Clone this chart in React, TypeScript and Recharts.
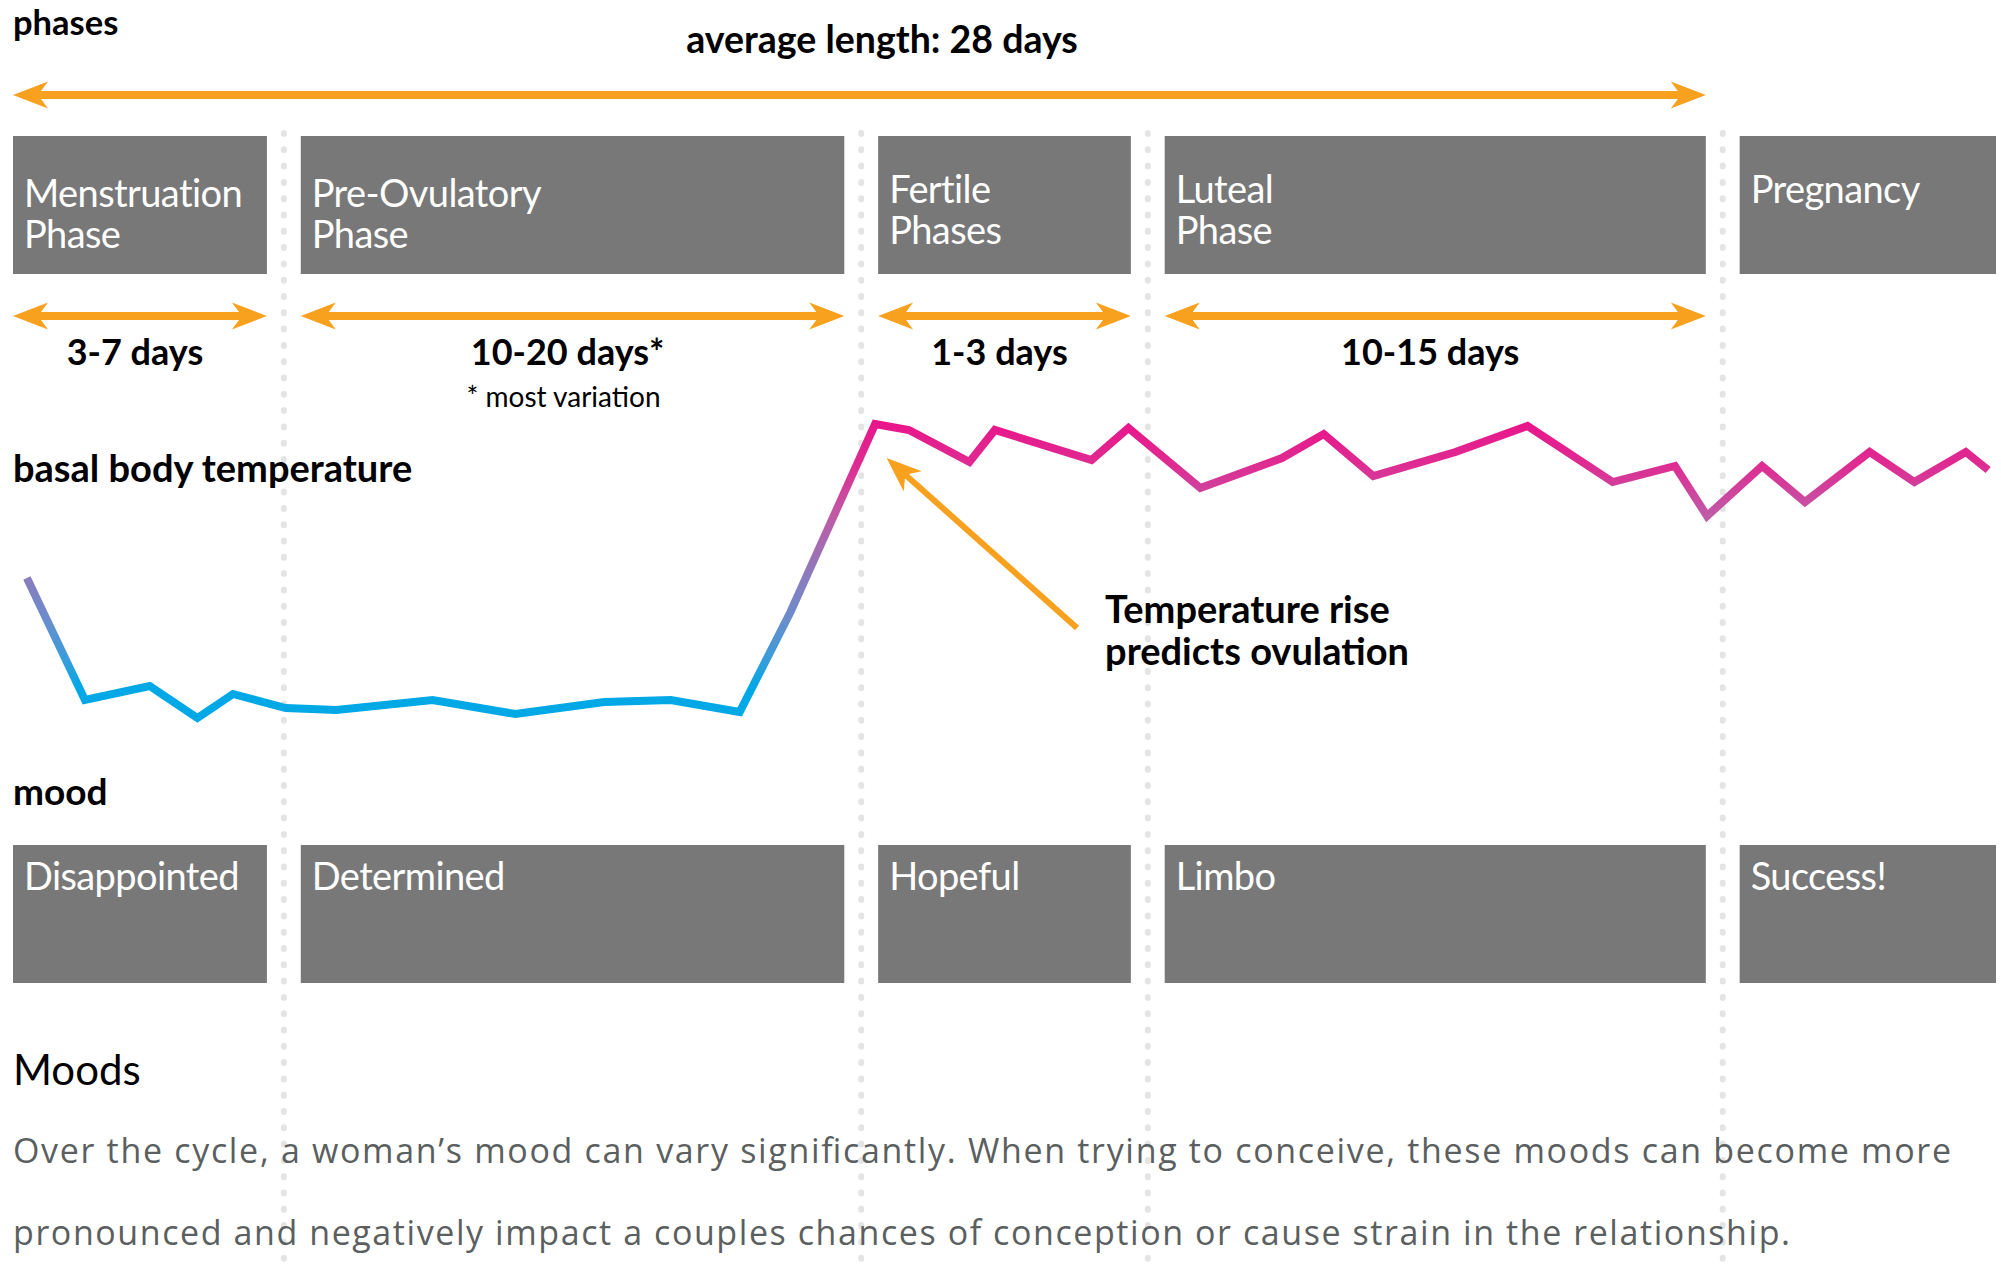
import React from "react";
import {
  ComposedChart,
  Line,
  XAxis,
  YAxis,
  ReferenceArea,
  ReferenceLine,
} from "recharts";

// cycle day of each basal body temperature reading
const days = [
  0.23, 1.19, 2.26, 3.05, 3.64, 4.51, 5.35, 6.94, 8.31, 9.78, 10.88, 12.02,
  12.86, 14.26, 14.82, 15.82, 16.24, 17.84, 18.45, 19.64, 20.99, 21.68, 22.5,
  23.86, 25.05, 26.46, 27.49, 28.02, 28.93, 29.64, 30.71, 31.45, 32.3, 32.67,
];
// basal body temperature (°F)
const temps = [
  97.61, 97.0, 97.07, 96.91, 97.03, 96.96, 96.95, 97.0, 96.93, 96.99, 97.0,
  96.94, 97.44, 98.38, 98.35, 98.19, 98.35, 98.2, 98.36, 98.06, 98.21, 98.33,
  98.12, 98.24, 98.37, 98.09, 98.17, 97.92, 98.17, 97.99, 98.24, 98.09, 98.24,
  98.15,
];

// phase separators (cycle days), phase + mood labels
const boundaries = [0, 4.48, 14.03, 18.77, 28.28, 32.8];
const phaseNames = [
  ["Menstruation", "Phase"],
  ["Pre-Ovulatory", "Phase"],
  ["Fertile", "Phases"],
  ["Luteal", "Phase"],
  ["Pregnancy"],
];
const durations = ["3-7 days", "10-20 days*", "1-3 days", "10-15 days", ""];
const durationNotes = ["", "* most variation", "", "", ""];
const moods = ["Disappointed", "Determined", "Hopeful", "Limbo", "Success!"];

const tempData = days.map((d, i) => ({ day: d, temp: temps[i] }));

const FONT = "Lato, 'Open Sans', sans-serif";
const ORANGE = "#f7a11f";
const BOX = "#787878";
const DOTS = "#e4e4e4";
const GAP = 0.28; // half gap between boxes, in days

const boxes = phaseNames.map((_, i) => ({
  x1: i === 0 ? boundaries[0] : boundaries[i] + GAP,
  x2: i === phaseNames.length - 1 ? boundaries[i + 1] : boundaries[i + 1] - GAP,
}));

const arrowPts = (tx: number, ty: number, ux: number, uy: number) => {
  // arrow head with tip at (tx,ty), u points from tip back into the shaft
  const L = 35, H = 13.5, N = 25;
  const px = -uy, py = ux;
  return [
    [tx, ty],
    [tx + ux * L + px * H, ty + uy * L + py * H],
    [tx + ux * N, ty + uy * N],
    [tx + ux * L - px * H, ty + uy * L - py * H],
  ]
    .map((p) => p.join(","))
    .join(" ");
};

const durationArrow = (label: string, note: string) => (p: any) => {
  const left = Math.min(p.x1, p.x2);
  const right = Math.max(p.x1, p.x2);
  const y = p.y1;
  const cx = (left + right) / 2;
  return (
    <g>
      <line x1={left + 15} y1={y} x2={right - 15} y2={y} stroke={ORANGE} strokeWidth={8} />
      <polygon points={arrowPts(left, y, 1, 0)} fill={ORANGE} />
      <polygon points={arrowPts(right, y, -1, 0)} fill={ORANGE} />
      {label && (
        <text x={cx - 5} y={y + 49} textAnchor="middle" fontFamily={FONT} fontWeight={700} fontSize={36} fill="#000">
          {label}
        </text>
      )}
      {note && (
        <text x={cx - 9} y={y + 91} textAnchor="middle" fontFamily={FONT} fontSize={28} fill="#000">
          {note}
        </text>
      )}
    </g>
  );
};

const annotationArrow = (p: any) => {
  const dx = p.x2 - p.x1, dy = p.y2 - p.y1;
  const len = Math.hypot(dx, dy);
  const ux = dx / len, uy = dy / len;
  return (
    <g>
      <line x1={p.x1 + ux * 15} y1={p.y1 + uy * 15} x2={p.x2} y2={p.y2} stroke={ORANGE} strokeWidth={6} />
      <polygon points={arrowPts(p.x1, p.y1, ux, uy)} fill={ORANGE} />
      <text fontFamily={FONT} fontWeight={700} fontSize={38} fill="#000">
        <tspan x={p.x2 + 28} y={p.y2 - 5}>Temperature rise</tspan>
        <tspan x={p.x2 + 28} y={p.y2 + 37}>predicts ovulation</tspan>
      </text>
    </g>
  );
};

const labelBox = (lines: string[], baseline: number) => (p: any) => (
  <g>
    <rect x={p.x} y={p.y} width={p.width} height={p.height} fill={BOX} />
    {lines.map((t, i) => (
      <text
        key={i}
        x={p.x + 11}
        y={p.y + baseline + i * 41}
        fontFamily={FONT}
        fontSize={38}
        letterSpacing={-0.6}
        fill="#fff"
      >
        {t}
      </text>
    ))}
  </g>
);

export default function App() {
  return (
    <div style={{ position: "absolute", left: 0, top: 0, width: 2001, height: 1272, background: "#fff" }}>
      <svg width={0} height={0} style={{ position: "absolute" }}>
        <defs>
          <linearGradient id="tempGrad" x1="0" y1="0" x2="0" y2="1">
            <stop offset="0" stopColor="#e8168b" />
            <stop offset="0.14" stopColor="#de2c92" />
            <stop offset="0.31" stopColor="#c05aa6" />
            <stop offset="0.515" stopColor="#8c7bbd" />
            <stop offset="0.665" stopColor="#6b8dcc" />
            <stop offset="0.8" stopColor="#389dda" />
            <stop offset="0.9" stopColor="#00a9e6" />
            <stop offset="1" stopColor="#00a9e6" />
          </linearGradient>
        </defs>
      </svg>
      <ComposedChart
        width={2001}
        height={1272}
        data={tempData}
        margin={{ top: 0, right: 5, bottom: 0, left: 13 }}
      >
        <XAxis dataKey="day" type="number" domain={[0, 32.8]} allowDataOverflow hide />
        <YAxis yAxisId="temp" type="number" domain={[94.14, 100.5]} allowDataOverflow hide />
        <YAxis yAxisId="px" type="number" domain={[0, 1272]} reversed allowDataOverflow hide />

        {boundaries.slice(1, -1).map((b, i) => (
          <ReferenceLine
            key={`sep-${i}`}
            yAxisId="px"
            segment={[{ x: b, y: 133 }, { x: b, y: 1272 }]}
            stroke={DOTS}
            strokeWidth={6}
            strokeDasharray="1 15.3"
            strokeLinecap="round"
          />
        ))}

        {boxes.map((b, i) => (
          <ReferenceArea
            key={`phase-${i}`}
            yAxisId="px"
            x1={b.x1}
            x2={b.x2}
            y1={136}
            y2={274}
            shape={labelBox(phaseNames[i], i < 2 ? 71 : 67)}
          />
        ))}
        {boxes.map((b, i) => (
          <ReferenceArea
            key={`mood-${i}`}
            yAxisId="px"
            x1={b.x1}
            x2={b.x2}
            y1={845}
            y2={983}
            shape={labelBox([moods[i]], 45)}
          />
        ))}

        <ReferenceLine
          yAxisId="px"
          segment={[{ x: boxes[0].x1, y: 95 }, { x: boxes[3].x2, y: 95 }]}
          shape={durationArrow("", "")}
        />
        {boxes.slice(0, 4).map((b, i) => (
          <ReferenceLine
            key={`dur-${i}`}
            yAxisId="px"
            segment={[{ x: b.x1, y: 316 }, { x: b.x2, y: 316 }]}
            shape={durationArrow(durations[i], durationNotes[i])}
          />
        ))}

        <ReferenceLine
          yAxisId="px"
          segment={[{ x: 14.45, y: 458 }, { x: 17.6, y: 628 }]}
          shape={annotationArrow}
        />

        <Line
          yAxisId="temp"
          dataKey="temp"
          type="linear"
          stroke="url(#tempGrad)"
          strokeWidth={8}
          strokeLinejoin="miter"
          strokeLinecap="butt"
          dot={false}
          activeDot={false}
          isAnimationActive={false}
        />
      </ComposedChart>

      <svg
        width={2001}
        height={1272}
        style={{ position: "absolute", left: 0, top: 0, pointerEvents: "none" }}
      >
        <g fontFamily={FONT} fill="#000">
          <text x={13} y={35} fontWeight={700} fontSize={34.5}>phases</text>
          <text x={882} y={53} fontWeight={700} fontSize={37.5} textAnchor="middle">
            average length: 28 days
          </text>
          <text x={13} y={482} fontWeight={700} fontSize={38}>basal body temperature</text>
          <text x={13} y={805} fontWeight={700} fontSize={37}>mood</text>
          <text x={13} y={1085} fontSize={42}>Moods</text>
        </g>
        <g fontFamily="'Open Sans', Lato, sans-serif" fontSize={34} fill="#5b5f5f">
          <text x={13} y={1163} textLength={1938} lengthAdjust="spacing">
            Over the cycle, a woman’s mood can vary significantly. When trying to conceive, these moods can become more
          </text>
          <text x={13} y={1245} textLength={1777} lengthAdjust="spacing">
            pronounced and negatively impact a couples chances of conception or cause strain in the relationship.
          </text>
        </g>
      </svg>
    </div>
  );
}
